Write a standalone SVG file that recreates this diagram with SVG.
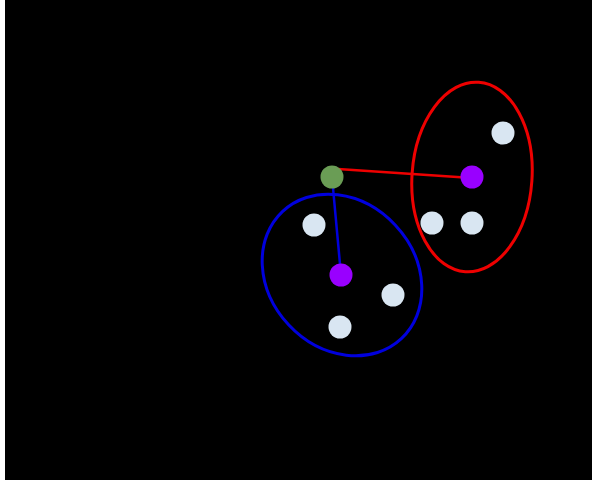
<svg xmlns="http://www.w3.org/2000/svg" width="592" height="480" viewBox="0 0 592 480">
<style>
.pt{fill:#d9e6f2}
.ctr{fill:#9900ff}
.hull{fill:none;stroke-width:3}
</style>
<rect x="0" y="0" width="592" height="480" fill="#ffffff"/>
<rect x="5" y="0" width="587" height="480" fill="#000000"/>
<g id="clusters">
<ellipse id="red-cluster" class="hull" cx="472" cy="177" rx="60" ry="95" transform="rotate(4 472 177)" stroke="#ee0000"/>
<ellipse id="blue-cluster" class="hull" cx="342" cy="275" rx="87" ry="73" transform="rotate(47 342 275)" stroke="#0000dd"/>
</g>
<g id="connectors">
<line x1="338" y1="169" x2="472" y2="178" stroke="#ee0000" stroke-width="2.5"/>
<line x1="332" y1="177" x2="341" y2="275" stroke="#0000dd" stroke-width="2.5"/>
</g>
<g id="query"><circle cx="332" cy="177" r="11.5" fill="#6a9d55"/></g>
<g id="red-center"><circle class="ctr" cx="472" cy="177" r="11.5"/></g>
<g id="blue-center"><circle class="ctr" cx="341" cy="275" r="11.5"/></g>
<g id="r1"><circle class="pt" cx="503" cy="133" r="11.5"/></g>
<g id="r2"><circle class="pt" cx="432" cy="223" r="11.5"/></g>
<g id="r3"><circle class="pt" cx="472" cy="223" r="11.5"/></g>
<g id="b1"><circle class="pt" cx="314" cy="225" r="11.5"/></g>
<g id="b2"><circle class="pt" cx="393" cy="295" r="11.5"/></g>
<g id="b3"><circle class="pt" cx="340" cy="327" r="11.5"/></g>
</svg>
